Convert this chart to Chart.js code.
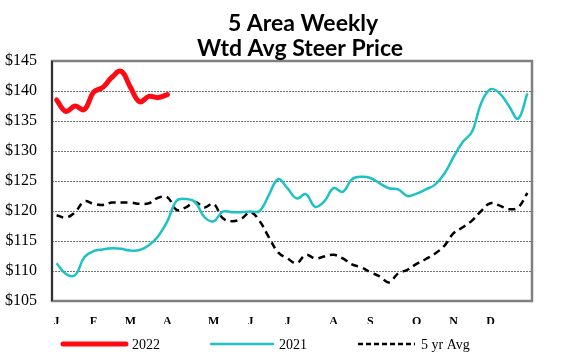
<!DOCTYPE html>
<html>
<head>
<meta charset="utf-8">
<script src="https://cdn.jsdelivr.net/npm/chart.js@4"></script>
<style>
  body { margin: 0; background: #fff; }
  canvas { display: block; }
</style>
</head>
<body>
<canvas id="steerChart" width="566" height="354"></canvas>
<script>
// month letters and the week they sit on
const monthLabels = ["J", "F", "M", "A", "M", "J", "J", "A", "S", "O", "N", "D"];
const monthWeeks = [0, 4, 8, 12, 17, 21, 25, 30, 34, 39, 43, 47];
const weekCount = 52;

const priceTicks = [105, 110, 115, 120, 125, 130, 135, 140, 145];

const prices2022 = [138.5, 136.6, 137.5, 136.9, 139.8, 140.6, 142.3, 143.3, 140.6, 138.2, 139.1, 138.9, 139.4];

const prices2021 = [111.3, 109.5, 109.3, 112.3, 113.3, 113.6, 113.8, 113.7, 113.4, 113.5, 114.3, 115.8, 118.3, 121.7, 122.0, 121.5,
    119.0, 118.3, 119.9, 119.8, 119.8, 119.9, 120.0, 122.7, 125.3, 123.8, 122.1, 122.8, 120.7, 121.6, 123.8, 123.2,
    125.3, 125.7, 125.5, 124.6, 123.8, 123.6, 122.5, 122.9, 123.6, 124.4, 126.2, 129.0, 131.5, 133.2, 138.0, 140.3,
    139.6, 137.5, 135.4, 139.6];

const fiveYrAvg = [119.3, 118.9, 119.8, 121.6, 121.2, 121.0, 121.4, 121.4, 121.4, 121.2, 121.3, 122.2, 122.3, 120.2, 120.6, 121.5,
    120.6, 121.2, 118.8, 118.3, 118.7, 119.8, 118.3, 115.6, 113.1, 112.1, 111.3, 112.7, 112.1, 112.4, 112.7, 112.1,
    111.1, 110.6, 109.8, 109.1, 108.1, 109.6, 110.2, 111.2, 112.0, 112.9, 114.2, 116.3, 117.3, 118.4, 120.0, 121.3,
    120.9, 120.3, 120.6, 123.0];

const titleLines = ["5 Area Weekly", "Wtd Avg Steer Price"];

const weekLabels = [];
for (let i = 0; i < weekCount; i++) {
    const m = monthWeeks.indexOf(i);
    weekLabels.push(m >= 0 ? monthLabels[m] : "");
}

// box around the plot area, left axis darker
const framePlugin = {
    id: "frame",
    afterDatasetsDraw(chart) {
        const { ctx, chartArea: a } = chart;
        ctx.save();
        ctx.strokeStyle = "#808080";
        ctx.lineWidth = 2.5;
        ctx.strokeRect(a.left, a.top, a.right - a.left, a.bottom - a.top);
        ctx.strokeStyle = "#333";
        ctx.lineWidth = 2;
        ctx.beginPath();
        ctx.moveTo(a.left, a.top);
        ctx.lineTo(a.left, a.bottom);
        ctx.stroke();
        ctx.restore();
    }
};

// title and legend drawn by hand so they sit where the original has them
const textPlugin = {
    id: "texts",
    afterDraw(chart) {
        const ctx = chart.ctx;
        ctx.save();
        ctx.fillStyle = "#000";
        ctx.font = "bold 23px Lato";
        ctx.textAlign = "center";
        ctx.textBaseline = "alphabetic";
        ctx.fillText(titleLines[0], 303, 31);
        ctx.fillText(titleLines[1], 300, 56);

        const starts = [63, 211, 358];
        const lengths = [63, 62, 57];
        ctx.font = "14px 'Liberation Serif'";
        ctx.textAlign = "left";
        ctx.textBaseline = "middle";
        chart.data.datasets.forEach((ds, i) => {
            const y = 344;
            ctx.strokeStyle = ds.borderColor;
            ctx.lineWidth = ds.borderWidth;
            ctx.lineCap = ds.borderDash ? "butt" : "round";
            ctx.setLineDash(ds.borderDash ? [5, 3] : []);
            ctx.beginPath();
            ctx.moveTo(starts[i], y);
            ctx.lineTo(starts[i] + lengths[i], y);
            ctx.stroke();
            ctx.setLineDash([]);
            ctx.fillText(ds.label, starts[i] + lengths[i] + 6, y + 1);
        });
        ctx.restore();
    }
};

new Chart(document.getElementById("steerChart"), {
    type: "line",
    data: {
        labels: weekLabels,
        datasets: [
            {
                label: "2022",
                data: prices2022,
                borderColor: "#FF0A14",
                borderWidth: 5,
                borderCapStyle: "round",
                borderJoinStyle: "round"
            },
            {
                label: "2021",
                data: prices2021,
                borderColor: "#1DC2C4",
                borderWidth: 2.5
            },
            {
                label: "5 yr Avg",
                data: fiveYrAvg,
                borderColor: "#000000",
                borderWidth: 2.5,
                borderDash: [7, 5]
            }
        ]
    },
    options: {
        responsive: false,
        animation: false,
        devicePixelRatio: 1,
        layout: { padding: { top: 61, right: 34, bottom: 30, left: 0 } },
        elements: {
            point: { radius: 0 },
            line: { tension: 0.4, fill: false }
        },
        plugins: {
            legend: { display: false },
            title: { display: false },
            tooltip: { enabled: false }
        },
        scales: {
            x: {
                offset: true,
                grid: { display: false },
                border: { display: false },
                ticks: {
                    autoSkip: false,
                    maxRotation: 0,
                    padding: 6,
                    color: "#000",
                    font: { family: "'Liberation Serif'", size: 12, weight: "bold" }
                },
                afterFit(scale) { scale.height = 23; }
            },
            y: {
                min: 105,
                max: 145,
                afterBuildTicks(scale) {
                    scale.ticks = priceTicks.map(v => ({ value: v }));
                },
                grid: {
                    color: "#707070",
                    lineWidth: 1,
                    drawTicks: false,
                    borderDash: [2, 1]
                },
                border: { display: false, dash: [2, 1] },
                ticks: {
                    padding: 15,
                    color: "#000",
                    font: { family: "'Liberation Serif'", size: 16 },
                    callback: v => "$" + v
                },
                afterFit(scale) { scale.width = 52; }
            }
        }
    },
    plugins: [framePlugin, textPlugin]
});
</script>
</body>
</html>
